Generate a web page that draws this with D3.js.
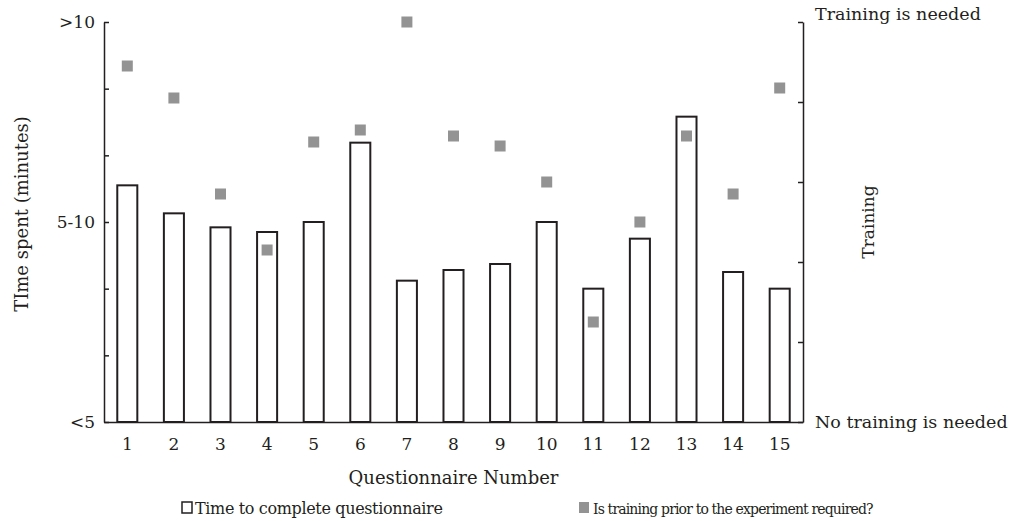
<!DOCTYPE html>
<html>
<head>
<meta charset="utf-8">
<script src="https://cdn.jsdelivr.net/npm/d3@7"></script>
<style>
  body { margin: 0; background: #fff; }
  text { font-family: "DejaVu Serif", "Liberation Serif", serif; fill: #231f20; }
</style>
</head>
<body>
<svg></svg>
<script>
// questionnaire numbers
var questions = [1,2,3,4,5,6,7,8,9,10,11,12,13,14,15];
// time spent, on a 0..6 scale where 0 = "<5", 3 = "5-10", 6 = ">10"
var timeSpent = [3.55, 3.13, 2.92, 2.85, 3.0, 4.19, 2.12, 2.28, 2.37, 3.0, 2.0, 2.75, 4.58, 2.25, 2.0];
// training needed, 0 = no training, 1 = training needed
var training = [0.89, 0.81, 0.57, 0.43, 0.70, 0.73, 1.0, 0.715, 0.69, 0.60, 0.25, 0.50, 0.715, 0.57, 0.835];
var leftTickLabels = {0: "<5", 3: "5-10", 6: ">10"};
var rightTickLabels = {0: "No training is needed", 1: "Training is needed"};

var screen = {width: 1013, height: 521};
var margins = {top: 22, right: 210, bottom: 99, left: 104};
var width = screen.width - margins.left - margins.right;
var height = screen.height - margins.top - margins.bottom;
var ink = "#231f20";
var font = "'DejaVu Serif', 'Liberation Serif', serif";

var svg = d3.select("svg")
    .attr("width", screen.width)
    .attr("height", screen.height);

var graph = svg.append("g")
    .attr("transform", "translate(" + margins.left + "," + margins.top + ")");

var xScale = d3.scaleBand()
    .domain(questions)
    .range([0, width])
    .paddingInner(0.57)
    .paddingOuter(0.285);

var yScale = d3.scaleLinear()
    .domain([0, 6])
    .range([height, 0]);

var y2Scale = d3.scaleLinear()
    .domain([0, 1])
    .range([height, 0]);

// bars
graph.selectAll(".bar")
    .data(timeSpent)
    .enter()
    .append("rect")
    .attr("class", "bar")
    .attr("x", function(d, i){ return xScale(questions[i]); })
    .attr("width", xScale.bandwidth())
    .attr("y", function(d){ return yScale(d); })
    .attr("height", function(d){ return height - yScale(d); })
    .attr("fill", "#fff")
    .attr("stroke", ink)
    .attr("stroke-width", 2);

// squares
var sq = 11;
graph.selectAll(".pt")
    .data(training)
    .enter()
    .append("rect")
    .attr("class", "pt")
    .attr("x", function(d, i){ return xScale(questions[i]) + xScale.bandwidth() / 2 - sq / 2; })
    .attr("y", function(d){ return y2Scale(d) - sq / 2; })
    .attr("width", sq)
    .attr("height", sq)
    .attr("fill", "#939393");

// left axis
var yAxis = d3.axisLeft(yScale)
    .tickValues([0,1,2,3,4,5,6])
    .tickSizeInner(-5)
    .tickSizeOuter(0)
    .tickPadding(9)
    .tickFormat(function(d){ return leftTickLabels[d] || ""; });
var gy = graph.append("g").call(yAxis);

// right axis
var y2Axis = d3.axisRight(y2Scale)
    .tickValues([0, 0.2, 0.4, 0.6, 0.8, 1])
    .tickSizeInner(-5)
    .tickSizeOuter(0)
    .tickPadding(12)
    .tickFormat(function(d){ return rightTickLabels[d] || ""; });
var gy2 = graph.append("g")
    .attr("transform", "translate(" + width + ",0)")
    .call(y2Axis);

// bottom axis
var xAxis = d3.axisBottom(xScale)
    .tickSize(0)
    .tickPadding(16);
var gx = graph.append("g")
    .attr("transform", "translate(0," + height + ")")
    .call(xAxis);

[gy, gy2, gx].forEach(function(g){
    g.selectAll("path, line").attr("stroke", ink).attr("stroke-width", 1.5);
    g.selectAll("text")
     .style("font-family", font)
     .style("font-size", "17px")
     .attr("fill", ink);
});
gy2.selectAll(".tick text")
   .style("font-size", "17.5px")
   .attr("dy", function(d){ return d === 1 ? "-0.15em" : "0.32em"; });

// axis titles
svg.append("text")
    .attr("transform", "translate(28," + (margins.top + height / 2 - 8) + ") rotate(-90)")
    .attr("text-anchor", "middle")
    .style("font-size", "18px")
    .text("TIme spent (minutes)");

svg.append("text")
    .attr("transform", "translate(874," + (margins.top + height / 2) + ") rotate(-90)")
    .attr("text-anchor", "middle")
    .style("font-size", "17px")
    .text("Training");

svg.append("text")
    .attr("x", margins.left + width / 2)
    .attr("y", 484)
    .attr("text-anchor", "middle")
    .style("font-size", "18px")
    .text("Questionnaire Number");

// legend
var legend = svg.append("g").attr("transform", "translate(181,514)");
legend.append("rect")
    .attr("x", 1).attr("y", -12).attr("width", 10).attr("height", 11)
    .attr("fill", "#fff").attr("stroke", ink).attr("stroke-width", 1.5);
legend.append("text")
    .attr("x", 14).attr("y", 0)
    .style("font-size", "16px")
    .style("letter-spacing", "-0.35px")
    .text("Time to complete questionnaire");
legend.append("rect")
    .attr("x", 398).attr("y", -12).attr("width", 10).attr("height", 11)
    .attr("fill", "#939393");
legend.append("text")
    .attr("x", 412).attr("y", 0)
    .style("font-size", "14px")
    .style("letter-spacing", "-0.85px")
    .text("Is training prior to the experiment required?");
</script>
</body>
</html>
